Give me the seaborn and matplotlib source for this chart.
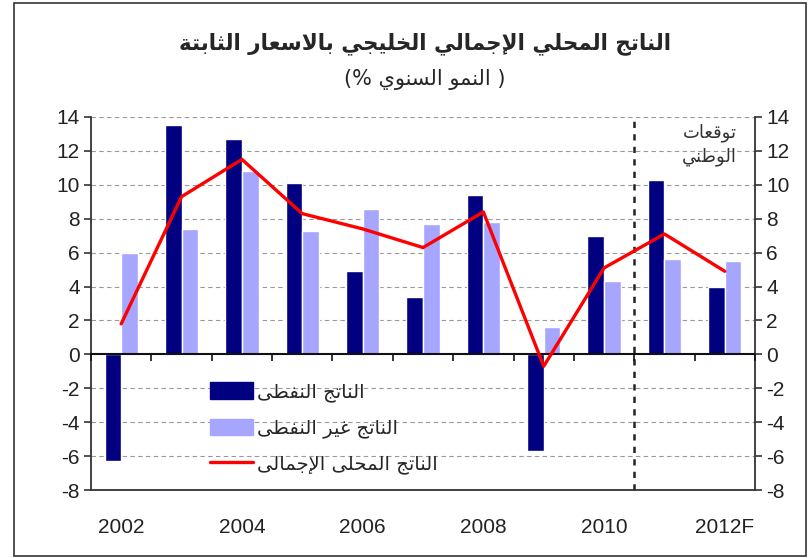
import numpy as np
import pandas as pd
import matplotlib
matplotlib.use("Agg")
import matplotlib.pyplot as plt
from matplotlib.patches import Rectangle, Patch
from matplotlib.lines import Line2D
import seaborn as sns

years = ["2002", "2003", "2004", "2005", "2006", "2007", "2008", "2009", "2010", "2011", "2012F"]
oil = [-6.3, 13.5, 12.7, 10.1, 4.9, 3.4, 9.4, -5.7, 7.0, 10.3, 4.0]
non_oil = [6.0, 7.4, 10.8, 7.3, 8.6, 7.7, 7.8, 1.6, 4.3, 5.6, 5.5]
total = [1.8, 9.3, 11.5, 8.3, 7.4, 6.3, 8.4, -0.7, 5.1, 7.1, 4.9]
tick_years = ["2002", "2004", "2006", "2008", "2010", "2012F"]

title = "الناتج المحلي الإجمالي الخليجي بالاسعار الثابتة"
subtitle = "النمو السنوي"
lbl_oil = "الناتج النفطى"
lbl_non_oil = "الناتج غير النفطى"
lbl_total = "الناتج المحلى الإجمالى"
forecast_note = ["توقعات", "الوطني"]

# kleine arabisk shaping (matplotlib kan ikke koble bokstaver selv)
FOUR = {"ئ": 0xFE89, "ب": 0xFE8F, "ت": 0xFE95, "ث": 0xFE99, "ج": 0xFE9D, "ح": 0xFEA1,
        "خ": 0xFEA5, "س": 0xFEB1, "ش": 0xFEB5, "ص": 0xFEB9, "ض": 0xFEBD, "ط": 0xFEC1,
        "ظ": 0xFEC5, "ع": 0xFEC9, "غ": 0xFECD, "ف": 0xFED1, "ق": 0xFED5, "ك": 0xFED9,
        "ل": 0xFEDD, "م": 0xFEE1, "ن": 0xFEE5, "ه": 0xFEE9, "ي": 0xFEF1}
TWO = {"آ": 0xFE81, "أ": 0xFE83, "ؤ": 0xFE85, "إ": 0xFE87, "ا": 0xFE8D, "ة": 0xFE93,
       "د": 0xFEA9, "ذ": 0xFEAB, "ر": 0xFEAD, "ز": 0xFEAF, "و": 0xFEED, "ى": 0xFEEF,
       "لا": 0xFEFB, "لأ": 0xFEF7, "لإ": 0xFEF9, "لآ": 0xFEF5}


def shape(text):
    units = []
    i = 0
    while i < len(text):
        if text[i] == "ل" and i + 1 < len(text) and text[i:i + 2] in TWO:
            units.append(text[i:i + 2])
            i += 2
        else:
            units.append(text[i])
            i += 1
    out = []
    for k, u in enumerate(units):
        prev = units[k - 1] if k > 0 else None
        nxt = units[k + 1] if k + 1 < len(units) else None
        jp = prev in FOUR and (u in FOUR or u in TWO)
        jn = u in FOUR and (nxt in FOUR or nxt in TWO)
        if u in FOUR:
            c = FOUR[u]
            out.append(chr(c + (3 if jp and jn else 1 if jp else 2 if jn else 0)))
        elif u in TWO:
            out.append(chr(TWO[u] + (1 if jp else 0)))
        else:
            out.append(u)
    return "".join(out)[::-1]


df = pd.DataFrame({"year": years * 2,
                   "value": oil + non_oil,
                   "serie": ["oil"] * len(years) + ["non_oil"] * len(years)})

sns.set_style("white")
plt.rcParams["font.family"] = ["Liberation Sans", "DejaVu Sans"]

fig = plt.figure(figsize=(8.12, 5.58), dpi=100)
ax = fig.add_axes([91 / 812, 1 - 490 / 558, 664 / 812, 373 / 558])

sns.barplot(data=df, x="year", y="value", hue="serie", palette=["#000080", "#A6A6FF"],
            saturation=1, width=0.55, dodge=True, legend=False, ax=ax, zorder=3)
sns.lineplot(x=np.arange(len(years)), y=total, color="#FF0000", lw=2.4, ax=ax, zorder=6)

ax.set_ylim(-8, 14)
ax.set_xlim(-0.5, len(years) - 0.5)
ax.set_yticks(range(-8, 15, 2))
ax.set_yticklabels([str(v) for v in range(-8, 15, 2)], fontsize=15, color="#222222")
ax.set_xticks([years.index(y) for y in tick_years])
ax.set_xticklabels(tick_years, fontsize=15, color="#222222")
ax.tick_params(axis="x", length=0, pad=20)
ax.tick_params(axis="y", direction="out", length=5, width=1.2, color="#333333", left=True, pad=3)
ax.set_xlabel("")
ax.set_ylabel("")
for v in range(-6, 15, 2):
    if v != 0:
        ax.axhline(v, color="#999999", lw=0.8, ls=(0, (4, 3)), zorder=1)
ax.spines["top"].set_visible(False)
for s in ["left", "bottom", "right"]:
    ax.spines[s].set_color("#333333")
    ax.spines[s].set_linewidth(1.3)

# nullinje med kategoriticks
sec = ax.secondary_xaxis(8 / 22)
sec.set_zorder(5)
sec.set_xticks(np.arange(-0.5, len(years), 1))
sec.set_xticklabels([])
sec.tick_params(direction="out", length=5, width=1.2, color="#111111")
sec.spines["bottom"].set_color("#111111")
sec.spines["bottom"].set_linewidth(1.5)

ax.axvline(8.5, color="#222222", lw=1.8, ls=(0, (2.5, 2.5)), zorder=5)
ax.text(10.2, 13.6, shape(forecast_note[0]) + "\n" + shape(forecast_note[1]),
        ha="right", va="top", fontsize=13, color="#333333", family=["DejaVu Sans"],
        linespacing=1.35)

ax2 = ax.twinx()
ax2.set_ylim(-8, 14)
ax2.set_yticks(range(-8, 15, 2))
ax2.set_yticklabels([str(v) for v in range(-8, 15, 2)], fontsize=15, color="#222222")
ax2.tick_params(axis="y", direction="out", length=5, width=1.2, color="#333333", right=True, pad=3)
for s in ax2.spines.values():
    s.set_visible(False)

handles = [Patch(color="#000080"), Patch(color="#A6A6FF"), Line2D([], [], color="#FF0000", lw=2.4)]
ax.legend(handles, [shape(lbl_oil), shape(lbl_non_oil), shape(lbl_total)],
          loc="upper left", bbox_to_anchor=(0.165, 0.315), frameon=False,
          prop={"family": "DejaVu Sans", "size": 14}, handlelength=2.2, handleheight=0.9,
          labelspacing=0.85, handletextpad=0.2, borderpad=0)

fig.text(0.523, 0.922, shape(title), ha="center", va="center", fontsize=15.5,
         fontweight="bold", family=["DejaVu Sans"])
fig.text(0.523, 0.858, "(% " + shape(subtitle) + " )", ha="center", va="center",
         fontsize=15, family=["DejaVu Sans"])

fig.patches.append(Rectangle((14 / 812, 2 / 558), 792 / 812, 553 / 558, transform=fig.transFigure,
                             fill=False, edgecolor="#333333", lw=1.2))

fig.savefig("out.png", dpi=100)
